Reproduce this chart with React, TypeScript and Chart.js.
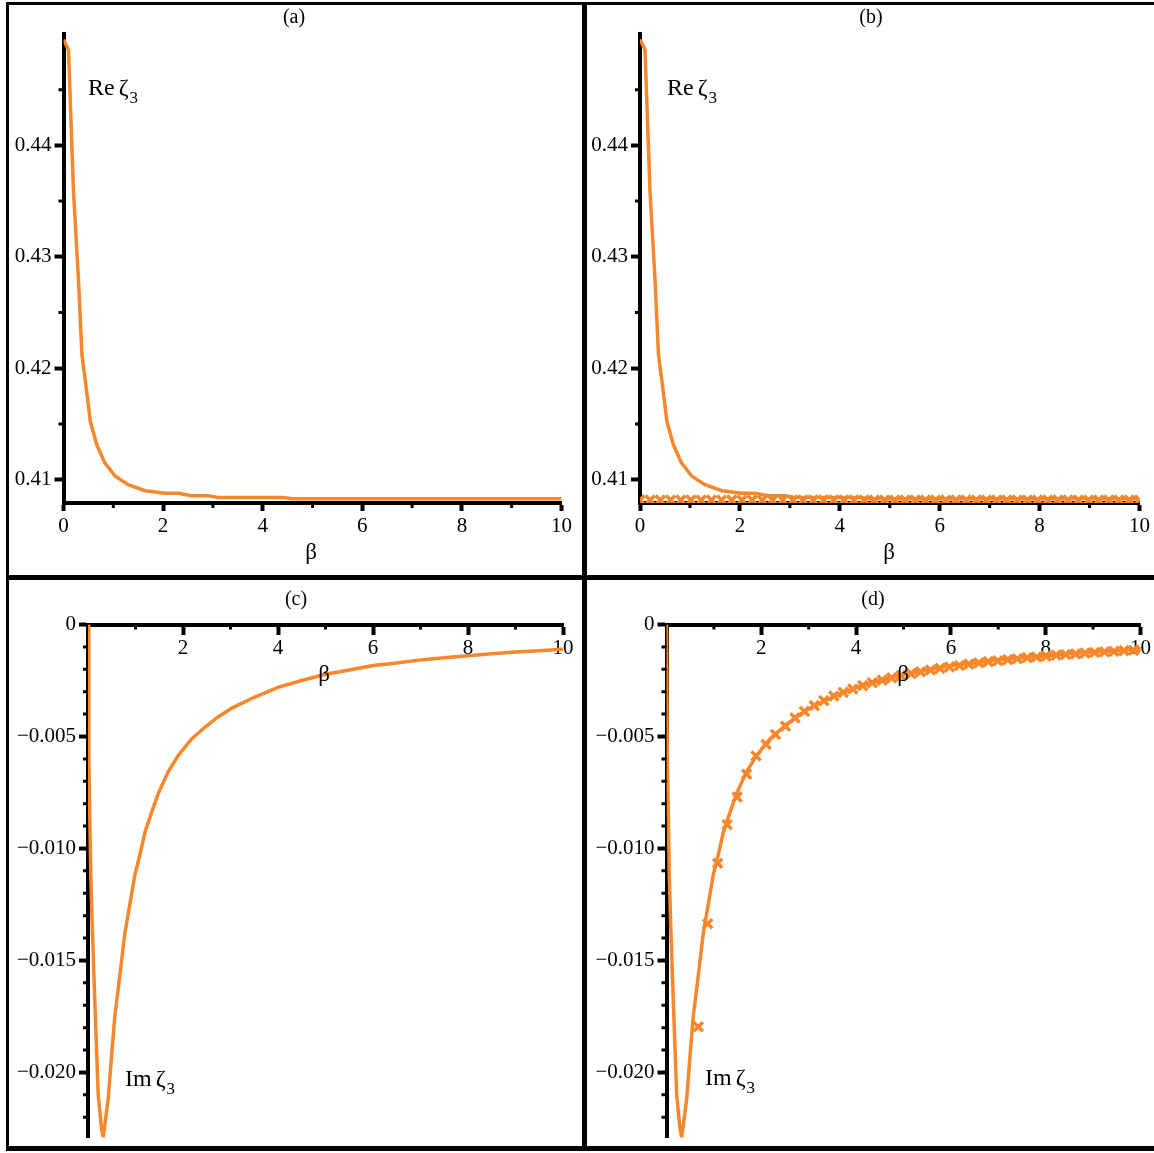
import React, { useEffect, useRef } from 'react';
import { Chart, registerables } from 'chart.js';

Chart.register(...registerables);

const PAGE_W = 1154;
const PAGE_H = 1153;
const ORANGE = '#F7872A';
const FONT = "'Liberation Serif', 'Times New Roman', serif";

// ---- Re zeta_3 (panels a, b) ----
const BETA_RE = [0, 0.1, 0.2, 0.3, 0.37, 0.44, 0.54, 0.67, 0.83, 1.04, 1.3, 1.64, 2.04, 2.3, 2.57, 2.9, 3.1, 4.4, 4.6, 10];
const RE_ZETA3 = [0.4495, 0.4486, 0.4359, 0.428, 0.4212, 0.4188, 0.4152, 0.4131, 0.4115, 0.4103, 0.40955, 0.409, 0.40877, 0.40877, 0.40856, 0.40856, 0.4084, 0.4084, 0.40829, 0.40829];

const BETA_RE_MARK = [0, 0.204, 0.408, 0.612, 0.816, 1.02, 1.224, 1.429, 1.633, 1.837, 2.041, 2.245, 2.449, 2.653, 2.857, 3.061, 3.265, 3.469, 3.673, 3.878, 4.082, 4.286, 4.49, 4.694, 4.898, 5.102, 5.306, 5.51, 5.714, 5.918, 6.122, 6.327, 6.531, 6.735, 6.939, 7.143, 7.347, 7.551, 7.755, 7.959, 8.163, 8.367, 8.571, 8.776, 8.98, 9.184, 9.388, 9.592, 9.796, 10];
const RE_MARK = [0.40817, 0.40817, 0.40817, 0.40817, 0.40817, 0.40817, 0.40817, 0.40817, 0.40817, 0.40817, 0.40817, 0.40817, 0.40817, 0.40817, 0.40817, 0.40817, 0.40817, 0.40817, 0.40817, 0.40817, 0.40817, 0.40817, 0.40817, 0.40817, 0.40817, 0.40817, 0.40817, 0.40817, 0.40817, 0.40817, 0.40817, 0.40817, 0.40817, 0.40817, 0.40817, 0.40817, 0.40817, 0.40817, 0.40817, 0.40817, 0.40817, 0.40817, 0.40817, 0.40817, 0.40817, 0.40817, 0.40817, 0.40817, 0.40817, 0.40817];

// ---- Im zeta_3 (panels c, d) ----
const BETA_IM = [0, 0.017, 0.06, 0.09, 0.143, 0.215, 0.284, 0.32, 0.425, 0.495, 0.564, 0.669, 0.775, 0.88, 0.985, 1.09, 1.196, 1.337, 1.478, 1.688, 1.9, 2.18, 2.46, 2.72, 3.04, 3.5, 4, 4.5, 5, 5.5, 6, 6.5, 7, 7.5, 8, 8.5, 9, 9.5, 10];
const IM_ZETA3 = [0, -0.006, -0.0113, -0.0135, -0.0168, -0.021, -0.0225, -0.0229, -0.0212, -0.0193, -0.0175, -0.0157, -0.0138, -0.0125, -0.0112, -0.0103, -0.0093, -0.0084, -0.00755, -0.00658, -0.00585, -0.00511, -0.00459, -0.00415, -0.00372, -0.00325, -0.00281, -0.0025, -0.00222, -0.00203, -0.00183, -0.00172, -0.00158, -0.00148, -0.00139, -0.00131, -0.00123, -0.00117, -0.00111];

const BETA_IM_MARK = [0.67, 0.87, 1.08, 1.28, 1.49, 1.69, 1.89, 2.1, 2.3, 2.51, 2.71, 2.91, 3.12, 3.32, 3.53, 3.73, 3.93, 4.14, 4.34, 4.55, 4.75, 4.95, 5.16, 5.36, 5.57, 5.77, 5.97, 6.18, 6.38, 6.59, 6.79, 6.99, 7.2, 7.4, 7.61, 7.81, 8.01, 8.22, 8.42, 8.63, 8.83, 9.03, 9.24, 9.44, 9.65, 9.85, 10.0];
const IM_MARK = [-0.01796, -0.01336, -0.01066, -0.00894, -0.00771, -0.00668, -0.00587, -0.00535, -0.00491, -0.00454, -0.00417, -0.00388, -0.00362, -0.0034, -0.0032, -0.00303, -0.00288, -0.00273, -0.0026, -0.00248, -0.00238, -0.00228, -0.00219, -0.00211, -0.00203, -0.00196, -0.00189, -0.00183, -0.00177, -0.00171, -0.00166, -0.00162, -0.00157, -0.00153, -0.00148, -0.00145, -0.00141, -0.00137, -0.00134, -0.00131, -0.00128, -0.00125, -0.00122, -0.0012, -0.00117, -0.00115, -0.00113];

// ---- ticks ----
const X_TICKS_FULL = [0, 2, 4, 6, 8, 10];
const X_TICKS_TOP = [2, 4, 6, 8, 10];
const X_MINOR = [1, 3, 5, 7, 9];
const Y_TICKS_RE = [0.41, 0.42, 0.43, 0.44];
const Y_MINOR_RE = [0.415, 0.425, 0.435, 0.445];
const Y_TICKS_IM = [0, -0.005, -0.01, -0.015, -0.02];
const Y_MINOR_IM = [-0.001, -0.002, -0.003, -0.004, -0.006, -0.007, -0.008, -0.009, -0.011, -0.012, -0.013, -0.014, -0.016, -0.017, -0.018, -0.019, -0.021, -0.022];

const RE_RANGE = [0.4079, 0.45];
const IM_RANGE = [-0.0229, 0];

const pts = (xs: number[], ys: number[]) => xs.map((x, i) => ({ x, y: ys[i] }));

const minorTicksPlugin = {
  id: 'minorTicks',
  afterDraw(chart: any, _args: any, opts: any) {
    const { ctx, chartArea, scales } = chart;
    const xs = scales.x;
    const ys = scales.y;
    ctx.save();
    ctx.strokeStyle = '#000';
    ctx.lineWidth = 3;
    ctx.beginPath();
    for (const v of opts.y || []) {
      const py = ys.getPixelForValue(v);
      ctx.moveTo(chartArea.left - opts.len, py);
      ctx.lineTo(chartArea.left, py);
    }
    const axisY = opts.xAtZero ? ys.getPixelForValue(0) : chartArea.bottom;
    for (const v of opts.x || []) {
      const px = xs.getPixelForValue(v);
      ctx.moveTo(px, axisY);
      ctx.lineTo(px, axisY + opts.len);
    }
    ctx.stroke();
    ctx.restore();
  },
};

const textPlugin = {
  id: 'panelText',
  afterDraw(chart: any, _args: any, opts: any) {
    const { ctx } = chart;
    ctx.save();
    ctx.fillStyle = '#000';
    for (const it of opts.items || []) {
      ctx.font = `${it.size}px ${FONT}`;
      ctx.textAlign = 'center';
      ctx.textBaseline = 'middle';
      ctx.fillText(it.t, it.x, it.y);
    }
    const z = opts.zeta;
    if (z) {
      ctx.textAlign = 'left';
      ctx.textBaseline = 'alphabetic';
      ctx.font = `24px ${FONT}`;
      ctx.fillText(z.pre, z.x, z.y);
      const w = ctx.measureText(z.pre).width;
      const zx = z.x + w + 4;
      ctx.fillText('ζ', zx, z.y);
      const wz = ctx.measureText('ζ').width;
      ctx.font = `17px ${FONT}`;
      ctx.fillText('3', zx + wz + 1, z.y + 8);
    }
    ctx.restore();
  },
};

type Spec = {
  area: { left: number; right: number; top: number; bottom: number };
  yRange: number[];
  yTicks: number[];
  yMinor: number[];
  yFmt: (v: number) => string;
  xAtZero: boolean;
  xTicks: number[];
  datasets: any[];
  texts: any[];
  zeta: any;
};

const YW = 80;
const XH = 70;

function makeConfig(p: Spec): any {
  const bottomAxis = !p.xAtZero;
  return {
    type: 'scatter',
    data: { datasets: p.datasets },
    options: {
      animation: false,
      responsive: false,
      devicePixelRatio: 1,
      layout: {
        padding: {
          left: p.area.left - YW,
          right: PAGE_W - p.area.right,
          top: p.area.top,
          bottom: PAGE_H - p.area.bottom - (bottomAxis ? XH : 0),
        },
      },
      plugins: {
        legend: { display: false },
        tooltip: { enabled: false },
        title: { display: false },
        minorTicks: { x: X_MINOR, y: p.yMinor, len: 5, xAtZero: p.xAtZero },
        panelText: { items: p.texts, zeta: p.zeta },
      },
      scales: {
        x: {
          type: 'linear',
          min: 0,
          max: 10,
          position: bottomAxis ? 'bottom' : { y: 0 },
          afterFit: (s: any) => { s.height = XH; },
          afterBuildTicks: (s: any) => { s.ticks = p.xTicks.map((v) => ({ value: v })); },
          border: { display: true, color: '#000', width: 4 },
          grid: { display: true, drawOnChartArea: false, drawTicks: true, tickLength: 8, tickWidth: 4, tickColor: '#000' },
          ticks: {
            color: '#000',
            font: { family: FONT, size: 21 },
            padding: 3,
            maxRotation: 0,
            autoSkip: false,
            callback: (v: any) => String(v),
          },
        },
        y: {
          type: 'linear',
          min: p.yRange[0],
          max: p.yRange[1],
          position: 'left',
          afterFit: (s: any) => { s.width = YW; },
          afterBuildTicks: (s: any) => { s.ticks = p.yTicks.map((v) => ({ value: v })); },
          border: { display: true, color: '#000', width: 4 },
          grid: { display: true, drawOnChartArea: false, drawTicks: true, tickLength: 9, tickWidth: 4, tickColor: '#000' },
          ticks: {
            color: '#000',
            font: { family: FONT, size: 21 },
            padding: 3,
            autoSkip: false,
            callback: (v: any) => p.yFmt(Number(v)),
          },
        },
      },
    },
    plugins: [minorTicksPlugin, textPlugin],
  };
}

const lineSet = (xs: number[], ys: number[]) => ({
  data: pts(xs, ys),
  showLine: true,
  borderColor: ORANGE,
  backgroundColor: ORANGE,
  borderWidth: 3.5,
  pointRadius: 0,
  tension: 0,
});

const markSet = (xs: number[], ys: number[]) => ({
  data: pts(xs, ys),
  showLine: false,
  pointStyle: 'crossRot',
  pointRadius: 6.5,
  pointBorderWidth: 3.5,
  borderColor: ORANGE,
  backgroundColor: ORANGE,
  borderWidth: 3.5,
});

const fmtRe = (v: number) => v.toFixed(2);
const fmtIm = (v: number) => (v === 0 ? '0' : '\u2212' + Math.abs(v).toFixed(3));

const SPECS: Spec[] = [
  {
    area: { left: 63.5, right: 561.5, top: 34, bottom: 503 },
    yRange: RE_RANGE, yTicks: Y_TICKS_RE, yMinor: Y_MINOR_RE, yFmt: fmtRe,
    xAtZero: false, xTicks: X_TICKS_FULL,
    datasets: [lineSet(BETA_RE, RE_ZETA3)],
    texts: [{ t: '(a)', x: 294, y: 18, size: 20 }, { t: 'β', x: 311, y: 553, size: 23 }],
    zeta: { pre: 'Re', x: 88, y: 95 },
  },
  {
    area: { left: 640, right: 1139.5, top: 34, bottom: 503 },
    yRange: RE_RANGE, yTicks: Y_TICKS_RE, yMinor: Y_MINOR_RE, yFmt: fmtRe,
    xAtZero: false, xTicks: X_TICKS_FULL,
    datasets: [markSet(BETA_RE_MARK, RE_MARK), lineSet(BETA_RE, RE_ZETA3)],
    texts: [{ t: '(b)', x: 871, y: 18, size: 20 }, { t: 'β', x: 889, y: 553, size: 23 }],
    zeta: { pre: 'Re', x: 667, y: 95 },
  },
  {
    area: { left: 88, right: 563, top: 624.5, bottom: 1142 },
    yRange: IM_RANGE, yTicks: Y_TICKS_IM, yMinor: Y_MINOR_IM, yFmt: fmtIm,
    xAtZero: true, xTicks: X_TICKS_TOP,
    datasets: [lineSet(BETA_IM, IM_ZETA3)],
    texts: [{ t: '(c)', x: 296, y: 600, size: 20 }, { t: 'β', x: 324, y: 675, size: 23 }],
    zeta: { pre: 'Im', x: 125, y: 1086 },
  },
  {
    area: { left: 666.5, right: 1141.5, top: 624.5, bottom: 1142 },
    yRange: IM_RANGE, yTicks: Y_TICKS_IM, yMinor: Y_MINOR_IM, yFmt: fmtIm,
    xAtZero: true, xTicks: X_TICKS_TOP,
    datasets: [markSet(BETA_IM_MARK, IM_MARK), lineSet(BETA_IM, IM_ZETA3)],
    texts: [{ t: '(d)', x: 873, y: 600, size: 20 }, { t: 'β', x: 903, y: 675, size: 23 }],
    zeta: { pre: 'Im', x: 705, y: 1085 },
  },
];

function Panel({ spec }: { spec: Spec }) {
  const ref = useRef<HTMLCanvasElement | null>(null);
  useEffect(() => {
    if (!ref.current) return;
    const chart = new Chart(ref.current, makeConfig(spec));
    return () => chart.destroy();
  }, [spec]);
  return (
    <canvas
      ref={ref}
      width={PAGE_W}
      height={PAGE_H}
      style={{ position: 'absolute', left: 0, top: 0, width: PAGE_W, height: PAGE_H }}
    />
  );
}

const bar = (left: number, top: number, width: number, height: number) => (
  <div style={{ position: 'absolute', left, top, width, height, background: '#000' }} />
);

export default function App() {
  return (
    <div style={{ position: 'absolute', left: 0, top: 0, width: PAGE_W, height: PAGE_H, background: '#fff', overflow: 'hidden' }}>
      {bar(6, 2, PAGE_W - 6, 3)}
      {bar(6, 2, 3, 1149)}
      {bar(582, 2, 5, 1149)}
      {bar(6, 575, PAGE_W - 6, 5)}
      {bar(6, 1146, PAGE_W - 6, 5)}
      {SPECS.map((s, i) => (
        <Panel key={i} spec={s} />
      ))}
    </div>
  );
}
